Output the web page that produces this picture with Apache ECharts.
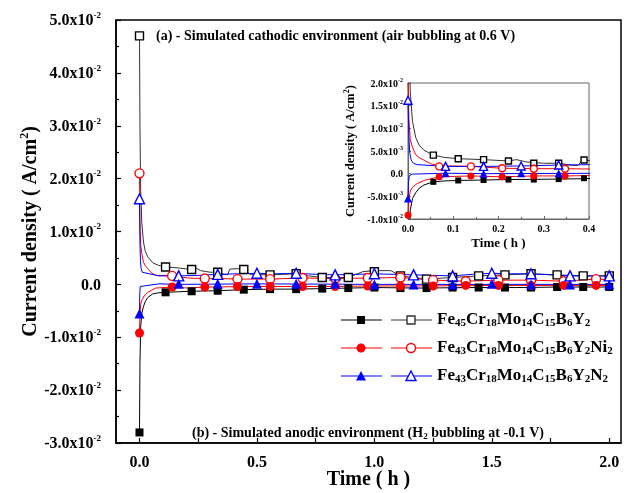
<!DOCTYPE html>
<html>
<head>
<meta charset="utf-8">
<script src="https://cdn.jsdelivr.net/npm/echarts@6/dist/echarts.min.js"></script>
<style>
html, body { margin: 0; padding: 0; background: #fff; }
#chart { width: 629px; height: 493px; }
</style>
</head>
<body>
<div id="chart"></div>
<script>
var FONT = '"Liberation Serif", "Times New Roman", serif';

// curves, time in h, current density in A/cm2
var fe45CathLine = [[0, 0.047], [0.002, 0.03], [0.005, 0.018], [0.01, 0.0115], [0.017, 0.008], [0.025, 0.0062],
    [0.035, 0.0052], [0.056, 0.0041], [0.08, 0.0036], [0.111, 0.0033], [0.167, 0.0031], [0.222, 0.0028],
    [0.24, 0.0031], [0.26, 0.0026], [0.3, 0.0023], [0.333, 0.0023], [0.36, 0.0019], [0.375, 0.0018],
    [0.385, 0.0029], [0.444, 0.003], [0.47, 0.0019], [0.556, 0.0018], [0.667, 0.002], [0.72, 0.0016],
    [0.778, 0.0013], [0.889, 0.0013], [0.95, 0.0024], [1.0, 0.0026], [1.07, 0.0026], [1.111, 0.0016],
    [1.222, 0.001], [1.333, 0.0013], [1.444, 0.0016], [1.556, 0.0018], [1.667, 0.002], [1.778, 0.0018],
    [1.889, 0.0016], [2.0, 0.0016]];
var fe45AnodLine = [[0, -0.028], [0.002, -0.015], [0.005, -0.008], [0.01, -0.0055], [0.017, -0.0042],
    [0.025, -0.0032], [0.035, -0.0025], [0.056, -0.0018], [0.08, -0.0016], [0.111, -0.0015], [0.167, -0.0014],
    [0.222, -0.0013], [0.333, -0.0012], [0.444, -0.001], [0.556, -0.0009], [0.667, -0.0009], [0.778, -0.0008],
    [0.889, -0.0007], [1.0, -0.0006], [1.2, -0.0007], [1.4, -0.0006], [1.6, -0.0006], [1.8, -0.0005], [2.0, -0.0005]];
var ni2CathLine = [[0, 0.021], [0.002, 0.012], [0.005, 0.0075], [0.01, 0.0058], [0.017, 0.0042], [0.025, 0.0035],
    [0.035, 0.003], [0.05, 0.0022], [0.069, 0.0017], [0.1, 0.0017], [0.139, 0.0016], [0.208, 0.0012],
    [0.278, 0.0011], [0.347, 0.0011], [0.417, 0.001], [0.556, 0.001], [0.694, 0.0012], [0.833, 0.0011],
    [0.972, 0.0012], [1.111, 0.0013], [1.25, 0.0008], [1.389, 0.0006], [1.528, 0.0008], [1.667, 0.0008],
    [1.806, 0.0006], [1.944, 0.001], [2.0, 0.0009]];
var ni2AnodLine = [[0, -0.0092], [0.002, -0.0055], [0.005, -0.0038], [0.01, -0.003], [0.02, -0.0022],
    [0.035, -0.0015], [0.069, -0.0007], [0.139, -0.0005], [0.208, -0.0007], [0.278, -0.0005], [0.347, -0.0005],
    [0.417, -0.0004], [0.556, -0.0004], [0.694, -0.0004], [0.833, -0.0004], [0.972, -0.0003], [1.2, -0.0003],
    [1.5, -0.0002], [1.8, -0.0002], [2.0, -0.0002]];
var n2CathLine = [[0, 0.0162], [0.002, 0.008], [0.004, 0.0045], [0.007, 0.003], [0.012, 0.0023], [0.02, 0.002],
    [0.083, 0.0016], [0.167, 0.0016], [0.25, 0.0017], [0.333, 0.0019], [0.417, 0.002], [0.5, 0.0021],
    [0.583, 0.002], [0.667, 0.0021], [0.75, 0.0019], [0.833, 0.0018], [0.917, 0.0019], [1.0, 0.002],
    [1.083, 0.0019], [1.167, 0.0018], [1.25, 0.0017], [1.333, 0.0016], [1.417, 0.0019], [1.5, 0.0021],
    [1.583, 0.002], [1.667, 0.002], [1.75, 0.0018], [1.833, 0.0016], [1.917, 0.0016], [2.0, 0.0016]];
var n2AnodLine = [[0, -0.0055], [0.001, -0.002], [0.003, -0.0004], [0.01, -0.0001], [0.083, 0.0001],
    [0.167, 0.0], [0.5, 0.0001], [1.0, 0.0], [1.5, 0.0], [2.0, 0.0]];

// markers on the main plot
var fe45MarkT = [0, 0.111, 0.222, 0.333, 0.444, 0.556, 0.667, 0.778, 0.889, 1.0, 1.111, 1.222, 1.333, 1.444,
    1.556, 1.667, 1.778, 1.889, 2.0];
var fe45CathMark = [0.047, 0.0033, 0.0028, 0.0023, 0.0028, 0.0018, 0.002, 0.0013, 0.0013, 0.0024, 0.0016, 0.001,
    0.0013, 0.0016, 0.0018, 0.002, 0.0018, 0.0016, 0.0016];
var fe45AnodMark = [-0.028, -0.0015, -0.0013, -0.0012, -0.001, -0.0009, -0.0009, -0.0008, -0.0007, -0.0006,
    -0.0007, -0.0007, -0.0006, -0.0006, -0.0006, -0.0006, -0.0005, -0.0005, -0.0005];
var ni2MarkT = [0, 0.139, 0.278, 0.417, 0.556, 0.694, 0.833, 0.972, 1.111, 1.25, 1.389, 1.528, 1.667, 1.806, 1.944];
var ni2CathMark = [0.021, 0.0016, 0.0011, 0.001, 0.001, 0.0012, 0.0011, 0.0012, 0.0013, 0.0008, 0.0006, 0.0008,
    0.0008, 0.0006, 0.001];
var ni2AnodMark = [-0.0092, -0.0005, -0.0005, -0.0004, -0.0004, -0.0004, -0.0004, -0.0003, -0.0003, -0.0003,
    -0.0002, -0.0002, -0.0002, -0.0002, -0.0002];
var n2MarkT = [0, 0.167, 0.333, 0.5, 0.667, 0.833, 1.0, 1.167, 1.333, 1.5, 1.667, 1.833, 2.0];
var n2CathMark = [0.0162, 0.0016, 0.0019, 0.0021, 0.0021, 0.0018, 0.002, 0.0018, 0.0016, 0.0021, 0.002, 0.0016, 0.0016];
var n2AnodMark = [-0.0055, 0.0001, 0.0001, 0.0001, 0.0001, 0.0001, 0.0, 0.0, 0.0, 0.0001, 0.0, 0.0, 0.0];

// markers on the inset
var fe45InsetT = [0.056, 0.111, 0.167, 0.222, 0.278, 0.333, 0.389];
var fe45CathInset = [0.0041, 0.0033, 0.0031, 0.0028, 0.0023, 0.0023, 0.003];
var fe45AnodInset = [-0.0018, -0.0015, -0.0014, -0.0013, -0.0013, -0.0012, -0.001];
var ni2InsetT = [0, 0.069, 0.139, 0.208, 0.278, 0.347];
var ni2CathInset = [null, 0.0016, 0.0016, 0.0012, 0.0011, 0.0011];
var ni2AnodInset = [-0.0092, -0.0007, -0.0005, -0.0007, -0.0005, -0.0005];
var n2InsetT = [0, 0.083, 0.167, 0.25, 0.333];
var n2CathInset = [0.0162, 0.0016, 0.0016, 0.0017, 0.0019];
var n2AnodInset = [-0.0055, 0.0001, 0.0, 0.0001, 0.0001];

var xLabelValues = [0, 0.5, 1.0, 1.5, 2.0];
var xTickValues = [0, 0.25, 0.5, 0.75, 1.0, 1.25, 1.5, 1.75, 2.0];

function pairs(ts, vs) {
    var out = [];
    ts.forEach(function (t, i) {
        if (vs[i] !== null) out.push([t, vs[i]]);
    });
    return out;
}

function sciLabel(v) {
    if (Math.abs(v) < 1e-12) return '{b|0.0}';
    var e = Math.floor(Math.log10(Math.abs(v)) + 1e-9);
    var m = v / Math.pow(10, e);
    return '{b|' + m.toFixed(1) + 'x10}{s|' + e + '}';
}

function lineSeries(data, color, idx) {
    return {
        type: 'line', xAxisIndex: idx, yAxisIndex: idx, data: data,
        symbol: 'none', silent: true, z: 2,
        lineStyle: { color: color, width: 1 }
    };
}

function markSeries(data, shape, color, hollow, size, idx) {
    return {
        type: 'scatter', xAxisIndex: idx, yAxisIndex: idx, data: data,
        symbol: shape, symbolSize: size, silent: true, z: 3,
        itemStyle: { color: hollow ? '#fff' : color, borderColor: color, borderWidth: hollow ? 1.4 : 0, opacity: 1 }
    };
}

var black = '#000', gray = '#333', red = '#ff0000', blue = '#0000ff';

var series = [];
[0, 1].forEach(function (idx) {
    series.push(lineSeries(fe45CathLine, gray, idx));
    series.push(lineSeries(fe45AnodLine, black, idx));
    series.push(lineSeries(ni2CathLine, red, idx));
    series.push(lineSeries(ni2AnodLine, red, idx));
    series.push(lineSeries(n2CathLine, blue, idx));
    series.push(lineSeries(n2AnodLine, blue, idx));
});
series.push(markSeries(pairs(fe45MarkT, fe45CathMark), 'rect', black, true, 8, 0));
series.push(markSeries(pairs(fe45MarkT, fe45AnodMark), 'rect', black, false, 8, 0));
series.push(markSeries(pairs(ni2MarkT, ni2CathMark), 'circle', red, true, 9, 0));
series.push(markSeries(pairs(ni2MarkT, ni2AnodMark), 'circle', red, false, 9, 0));
series.push(markSeries(pairs(n2MarkT, n2CathMark), 'triangle', blue, true, 10, 0));
series.push(markSeries(pairs(n2MarkT, n2AnodMark), 'triangle', blue, false, 10, 0));
series.push(markSeries(pairs(fe45InsetT, fe45CathInset), 'rect', black, true, 6, 1));
series.push(markSeries(pairs(fe45InsetT, fe45AnodInset), 'rect', black, false, 6, 1));
series.push(markSeries(pairs(ni2InsetT, ni2CathInset), 'circle', red, true, 7, 1));
series.push(markSeries(pairs(ni2InsetT, ni2AnodInset), 'circle', red, false, 7, 1));
series.push(markSeries(pairs(n2InsetT, n2CathInset), 'triangle', blue, true, 8, 1));
series.push(markSeries(pairs(n2InsetT, n2AnodInset), 'triangle', blue, false, 8, 1));

function richLabel(size, supSize) {
    return {
        b: { fontFamily: FONT, fontWeight: 'bold', fontSize: size, lineHeight: size + 2, verticalAlign: 'bottom', color: '#000' },
        s: { fontFamily: FONT, fontWeight: 'bold', fontSize: supSize, lineHeight: supSize, verticalAlign: 'top', color: '#000' }
    };
}

// legend rows
var legendRows = [
    { y: 320, color: black, hollowColor: gray, shape: 'rect',
      text: '{b|Fe}{s|45}{b|Cr}{s|18}{b|Mo}{s|14}{b|C}{s|15}{b|B}{s|6}{b|Y}{s|2}' },
    { y: 348, color: red, hollowColor: red, shape: 'circle',
      text: '{b|Fe}{s|43}{b|Cr}{s|18}{b|Mo}{s|14}{b|C}{s|15}{b|B}{s|6}{b|Y}{s|2}{b|Ni}{s|2}' },
    { y: 376, color: blue, hollowColor: blue, shape: 'triangle',
      text: '{b|Fe}{s|43}{b|Cr}{s|18}{b|Mo}{s|14}{b|C}{s|15}{b|B}{s|6}{b|Y}{s|2}{b|N}{s|2}' }
];
var subRich = {
    b: { fontFamily: FONT, fontWeight: 'bold', fontSize: 17, lineHeight: 18, verticalAlign: 'top', fill: '#000' },
    s: { fontFamily: FONT, fontWeight: 'bold', fontSize: 11, lineHeight: 10, padding: [12, 0, 0, 0], verticalAlign: 'bottom', fill: '#000' }
};

function legendSymbol(shape, cx, cy, color, hollow) {
    var style = { fill: hollow ? '#fff' : color, stroke: color, lineWidth: hollow ? 1.4 : 0 };
    if (shape === 'rect') return { type: 'rect', shape: { x: cx - 4, y: cy - 4, width: 8, height: 8 }, style: style, z: 10 };
    if (shape === 'circle') return { type: 'circle', shape: { cx: cx, cy: cy, r: 4.5 }, style: style, z: 10 };
    return { type: 'polygon', shape: { points: [[cx, cy - 5], [cx + 5, cy + 4.5], [cx - 5, cy + 4.5]] }, style: style, z: 10 };
}

var graphics = [];
legendRows.forEach(function (r) {
    graphics.push({ type: 'line', shape: { x1: 341, y1: r.y, x2: 382, y2: r.y }, style: { stroke: r.color, lineWidth: 1.2 }, z: 9 });
    graphics.push(legendSymbol(r.shape, 361, r.y, r.color, false));
    graphics.push({ type: 'line', shape: { x1: 391, y1: r.y, x2: 432, y2: r.y }, style: { stroke: r.hollowColor, lineWidth: 1 }, z: 9 });
    graphics.push(legendSymbol(r.shape, 411, r.y, r.hollowColor, true));
    graphics.push({ type: 'text', x: 437, y: r.y - 9, style: { text: r.text, rich: subRich, verticalAlign: 'top' }, z: 10 });
});
graphics.push({
    type: 'text', x: 156, y: 36, z: 10,
    style: { text: '(a) - Simulated cathodic environment (air bubbling at 0.6 V)', fontFamily: FONT, fontWeight: 'bold',
        fontSize: 14, fill: '#000', verticalAlign: 'middle' }
});
graphics.push({
    type: 'text', x: 192, y: 426, z: 10,
    style: { text: '{b|(b) - Simulated anodic environment (H}{s|2}{b| bubbling at -0.1 V)}', verticalAlign: 'top',
        rich: {
            b: { fontFamily: FONT, fontWeight: 'bold', fontSize: 14, lineHeight: 15, verticalAlign: 'top', fill: '#000' },
            s: { fontFamily: FONT, fontWeight: 'bold', fontSize: 9, lineHeight: 9, padding: [8, 0, 0, 0], verticalAlign: 'bottom', fill: '#000' }
        } }
});

var chart = echarts.init(document.getElementById('chart'), null, { renderer: 'canvas' });
chart.setOption({
    animation: false,
    backgroundColor: '#fff',
    grid: [
        { left: 116, top: 20, right: 8, bottom: 50, show: true, borderColor: '#000', borderWidth: 1.5,
          outerBoundsMode: 'none', containLabel: false },
        { left: 408, top: 83, width: 181, height: 136, show: true, borderColor: '#666', borderWidth: 1,
          outerBoundsMode: 'none', containLabel: false }
    ],
    xAxis: [{
        type: 'value', gridIndex: 0, min: -0.1, max: 2.05,
        name: 'Time ( h )', nameLocation: 'middle', nameGap: 27, nameMoveOverlap: false,
        nameTextStyle: { fontFamily: FONT, fontWeight: 'bold', fontSize: 20, color: '#000' },
        axisLine: { onZero: false, lineStyle: { color: '#000', width: 1.5 } },
        axisTick: { inside: true, length: 5, customValues: xTickValues, lineStyle: { color: '#000', width: 1.2 } },
        axisLabel: { customValues: xLabelValues, margin: 12, fontFamily: FONT, fontWeight: 'bold', fontSize: 16, color: '#000',
            formatter: function (v) { return v.toFixed(1); } },
        splitLine: { show: false }
    }, {
        type: 'value', gridIndex: 1, min: 0, max: 0.4, interval: 0.1,
        name: 'Time ( h )', nameLocation: 'middle', nameGap: 18, nameMoveOverlap: false,
        nameTextStyle: { fontFamily: FONT, fontWeight: 'bold', fontSize: 13, color: '#000' },
        axisLine: { onZero: false, lineStyle: { color: '#666', width: 1 } },
        axisTick: { inside: true, length: 3, lineStyle: { color: '#666' } },
        minorTick: { show: true, splitNumber: 2, length: 2, lineStyle: { color: '#666' } },
        axisLabel: { margin: 5, fontFamily: FONT, fontWeight: 'bold', fontSize: 10, color: '#000',
            formatter: function (v) { return v.toFixed(1); } },
        splitLine: { show: false }
    }],
    yAxis: [{
        type: 'value', gridIndex: 0, min: -0.03, max: 0.05, interval: 0.01,
        name: '{b|Current density ( A/cm}{s|2}{b|)}', nameLocation: 'middle', nameGap: 75, nameRotate: 90,
        nameMoveOverlap: false,
        nameTextStyle: { rich: {
            b: { fontFamily: FONT, fontWeight: 'bold', fontSize: 20, lineHeight: 22, verticalAlign: 'bottom', color: '#000' },
            s: { fontFamily: FONT, fontWeight: 'bold', fontSize: 12, lineHeight: 12, verticalAlign: 'top', color: '#000' }
        } },
        axisLine: { onZero: false, lineStyle: { color: '#000', width: 1.5 } },
        axisTick: { inside: true, length: 5, lineStyle: { color: '#000', width: 1.2 } },
        minorTick: { show: true, splitNumber: 2, length: 3, lineStyle: { color: '#000', width: 1.2 } },
        axisLabel: { margin: 15, formatter: sciLabel, rich: richLabel(16, 9) },
        splitLine: { show: false }
    }, {
        type: 'value', gridIndex: 1, min: -0.01, max: 0.02, interval: 0.005,
        name: '{b|Current density ( A/cm}{s|2}{b|)}', nameLocation: 'middle', nameGap: 51, nameRotate: 90,
        nameMoveOverlap: false,
        nameTextStyle: { rich: {
            b: { fontFamily: FONT, fontWeight: 'bold', fontSize: 12.5, lineHeight: 14, verticalAlign: 'bottom', color: '#000' },
            s: { fontFamily: FONT, fontWeight: 'bold', fontSize: 8, lineHeight: 8, verticalAlign: 'top', color: '#000' }
        } },
        axisLine: { onZero: false, lineStyle: { color: '#666', width: 1 } },
        axisTick: { inside: true, length: 3, lineStyle: { color: '#666' } },
        axisLabel: { margin: 5, formatter: sciLabel, rich: richLabel(10, 6) },
        splitLine: { show: false }
    }],
    series: series,
    graphic: graphics
});
</script>
</body>
</html>
